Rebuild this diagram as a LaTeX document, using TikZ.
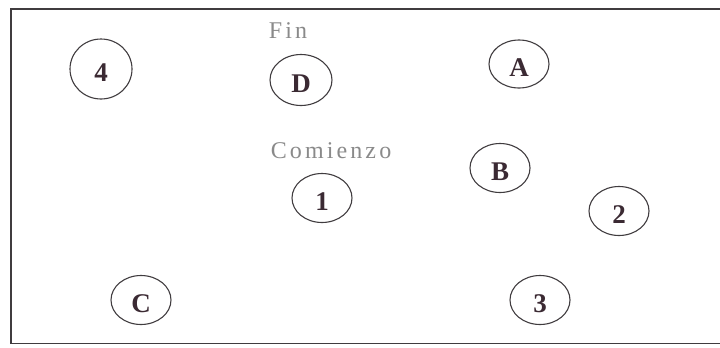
\documentclass[tikz,border=0pt]{standalone}
\usepackage{fontspec}
\setmainfont{Liberation Serif}
\newfontfamily\spacedfont[LetterSpace=13]{Liberation Serif}
\usetikzlibrary{shapes.geometric}
\definecolor{inkline}{HTML}{403C3F}
\definecolor{inktext}{HTML}{3B2A33}
\definecolor{greytext}{HTML}{8A8A8A}
\begin{document}
\begin{tikzpicture}[x=1bp,y=-1bp,%
      every node/.style={inner sep=0pt,outer sep=0pt},
      state/.style={draw=inkline,line width=1.1bp,ellipse,minimum width=60bp,
        minimum height=49bp,text height=25bp,text depth=0pt,text=inktext,
        font=\fontsize{27bp}{29bp}\selectfont\bfseries},
      tag/.style={text=greytext,font=\spacedfont\fontsize{24bp}{28bp}\selectfont}]
      \useasboundingbox (0,0) rectangle (720,347);
      \draw[inkline,line width=1.2bp](720,9)--(11,9)--(11,343.5)--(720,343.5);
      \node[state,minimum width=62bp,minimum height=60bp] at(101,69)(n4){4};
      \node[state,minimum width=62bp,minimum height=51bp] at(301,80)(nD){D};
      \node[state,minimum height=48bp] at(519,64)(nA){A};
      \node[state] at(500,168)(nB){B};
      \node[state] at(322,198)(n1){1};
      \node[state] at(619,211)(n2){2};
      \node[state] at(141,300)(nC){C};
      \node[state] at(540,300)(n3){3};
      \node[tag] at(288,31)(fin){Fin};
      \node[tag] at(331,151)(comienzo){Comienzo};
    \end{tikzpicture}
\end{document}
